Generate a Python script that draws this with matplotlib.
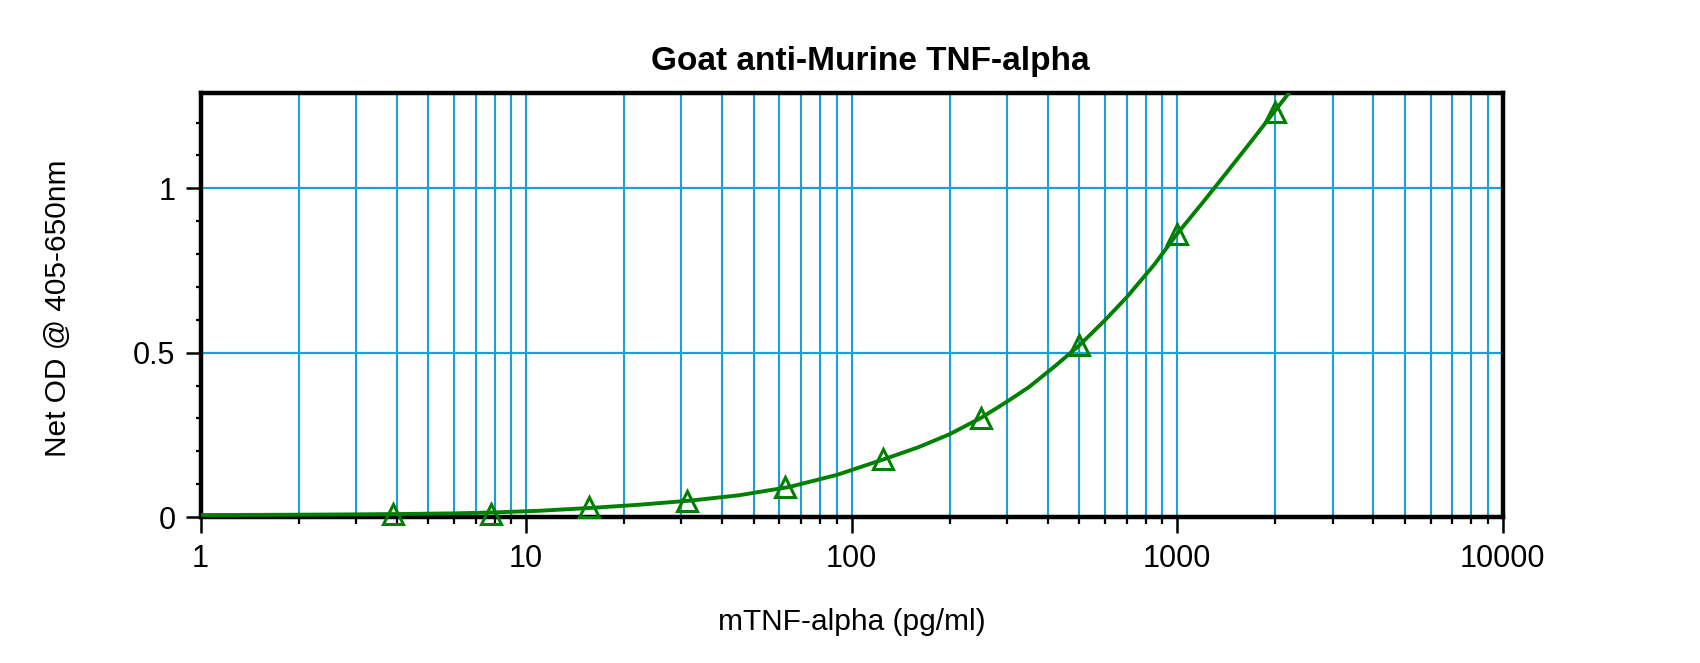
import matplotlib
matplotlib.use("Agg")
import matplotlib.pyplot as plt
from matplotlib.ticker import LogLocator, FixedLocator, FixedFormatter, NullFormatter

plt.rcParams['font.family'] = ['Liberation Sans', 'DejaVu Sans']

# standards (pg/ml) and net OD
conc = [3.9, 7.8, 15.6, 31.25, 62.5, 125, 250, 500, 1000, 2000]
od = [0.009, 0.010, 0.031, 0.050, 0.091, 0.176, 0.301, 0.522, 0.861, 1.233]

# fitted curve, points
curve_x = [1, 1.5, 2, 3, 4, 6, 8, 11, 16, 22, 32, 45, 64, 90, 125, 160, 200, 250,
           300, 350, 420, 500, 600, 700, 850, 1000, 1200, 1400, 1700, 2000, 2230]
curve_y = [0.006, 0.0065, 0.007, 0.008, 0.009, 0.011, 0.014, 0.019, 0.028, 0.037,
           0.050, 0.066, 0.091, 0.128, 0.175, 0.212, 0.252, 0.302, 0.351, 0.395,
           0.458, 0.522, 0.599, 0.669, 0.768, 0.862, 0.958, 1.041, 1.147, 1.237, 1.297]

xtick_vals = [1, 10, 100, 1000, 10000]
xtick_labels = ['1', '10', '100', '1000', '10000']
ytick_vals = [0, 0.5, 1]
ytick_labels = ['0', '0.5', '1']

grid_col = '#1a9fd6'
green = '#008000'

fig = plt.figure(figsize=(17, 6.63), dpi=100)
ax = fig.add_axes([0.118, 0.2202, 0.766, 0.6395])

ax.set_xscale('log')
ax.set_xlim(1, 10000)
ax.set_ylim(0, 1.29)

ax.xaxis.set_major_locator(FixedLocator(xtick_vals))
ax.xaxis.set_major_formatter(FixedFormatter(xtick_labels))
ax.xaxis.set_minor_locator(LogLocator(base=10, subs=range(2, 10), numticks=20))
ax.xaxis.set_minor_formatter(NullFormatter())
ax.yaxis.set_major_locator(FixedLocator(ytick_vals))
ax.yaxis.set_major_formatter(FixedFormatter(ytick_labels))
ax.yaxis.set_minor_locator(FixedLocator([i / 10 for i in range(1, 13)]))

ax.grid(True, which='both', axis='x', color=grid_col, lw=1.5)
ax.grid(True, which='major', axis='y', color=grid_col, lw=1.6)
ax.set_axisbelow(True)

ax.tick_params(axis='x', which='major', length=11.5, width=1.8, pad=8, labelsize=22, direction='out')
ax.tick_params(axis='x', which='minor', length=5, width=1.6, direction='out')
ax.tick_params(axis='y', which='major', length=11, width=1.8, pad=7, labelsize=22, direction='out')
ax.tick_params(axis='y', which='minor', length=3.6, width=1.6, direction='out')
for sp in ax.spines.values():
    sp.set_linewidth(3.2)
    sp.set_color('black')

ax.plot(curve_x, curve_y, color=green, lw=2.8, zorder=3)
ax.plot(conc, od, ls='none', marker='^', ms=14, mfc='none', mec=green, mew=2.2, zorder=4, clip_on=False)

fig.text(0.512, 0.894, 'Goat anti-Murine TNF-alpha', ha='center', va='baseline',
         fontsize=24, fontweight='bold')
fig.text(0.501, 0.0498, 'mTNF-alpha (pg/ml)', ha='center', va='baseline', fontsize=21.5)
fig.text(0.034, 0.535, 'Net OD @ 405-650nm', ha='center', va='center', rotation=90, fontsize=21.5)

fig.savefig('out.png', dpi=100)
